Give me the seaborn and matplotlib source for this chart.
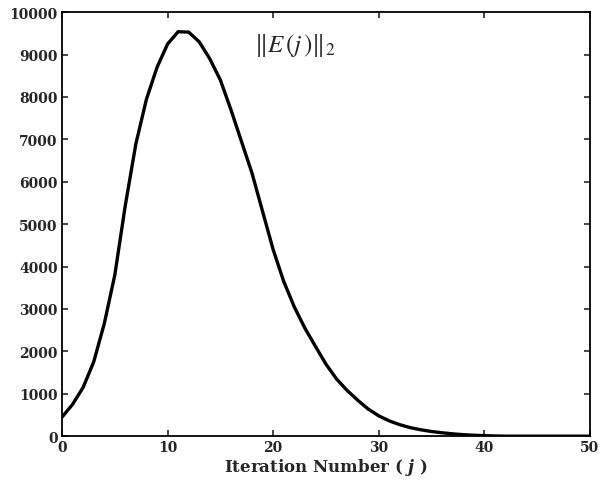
import matplotlib
matplotlib.use('Agg')
import matplotlib.pyplot as plt
import pandas as pd
import seaborn as sns

# iteration number and the 2-norm of the error
iteration = list(range(0, 51))
error_norm = [450, 750, 1150, 1750, 2650, 3800, 5450, 6900, 7950, 8700,
              9250, 9540, 9530, 9300, 8900, 8400, 7700, 6950, 6200, 5300,
              4400, 3650, 3050, 2550, 2120, 1700, 1350, 1080, 850, 640,
              480, 360, 270, 200, 150, 110, 80, 55, 35, 22,
              12, 5, 0, 0, 0, 0, 0, 0, 0, 0,
              0]
x_ticks = [0, 10, 20, 30, 40, 50]
y_ticks = list(range(0, 10001, 1000))

df = pd.DataFrame({'j': iteration, 'norm': error_norm})

sns.set_style('ticks')
plt.rcParams['font.family'] = ['DejaVu Serif']
plt.rcParams['mathtext.fontset'] = 'custom'
plt.rcParams['mathtext.it'] = 'DejaVu Serif:italic:bold'
plt.rcParams['mathtext.rm'] = 'DejaVu Serif:bold'

fig = plt.figure(figsize=(6.05, 4.89), dpi=100)
ax = fig.add_axes([0.1025, 0.106, 0.8725, 0.867])

sns.lineplot(data=df, x='j', y='norm', ax=ax, color='black', linewidth=2.4)

ax.set_xlim(0, 50)
ax.set_ylim(0, 10000)
ax.set_xticks(x_ticks)
ax.set_yticks(y_ticks)
ax.tick_params(direction='in', length=4, width=1.2, top=True, right=True,
               labelsize=10, pad=3)
for lab in ax.get_xticklabels() + ax.get_yticklabels():
    lab.set_fontweight('bold')
for sp in ax.spines.values():
    sp.set_linewidth(1.3)
    sp.set_color('black')

ax.set_xlabel(r'Iteration Number ( $j$ )', fontsize=12, fontweight='bold', labelpad=1)
ax.set_ylabel('')

ax.text(18.2, 9250, r'$\Vert E\,(j\,)\Vert_2$', fontsize=18, math_fontfamily='stix',
        ha='left', va='center')

fig.savefig('out.png', dpi=100)
